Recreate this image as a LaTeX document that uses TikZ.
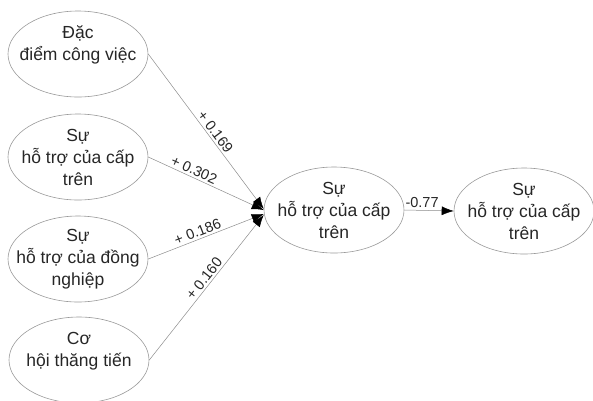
\documentclass[tikz,border=0pt]{standalone}
\usepackage{fontspec}
\setmainfont{Liberation Sans}
\usetikzlibrary{shapes.geometric,arrows.meta}
\tikzset{
  ell/.style={draw=black!40, line width=0.6pt, ellipse, minimum width=140pt, minimum height=86pt,
    inner sep=-25pt, align=center, font=\fontsize{17.5}{22}\selectfont, text=black!85},
  conn/.style={draw=black!45, line width=0.5pt, -{Latex[length=12pt,width=9pt,fill=black,color=black]}},
  lbl/.style={font=\fontsize{14.5}{16}\selectfont, inner sep=2pt, text=black!85}
}
\begin{document}
\begin{tikzpicture}[x=1pt,y=1pt]
\useasboundingbox (0,0) rectangle (593,-400);
\node[ell] (e1) at (78,-54) {Đặc\\điểm công việc\\\mbox{}};
\node[ell] (e2) at (78,-157) {Sự\\hỗ trợ của cấp\\trên};
\node[ell] (e3) at (78,-259) {Sự\\hỗ trợ của đồng\\nghiệp};
\node[ell] (e4) at (79,-360) {Cơ\\hội thăng tiến\\\mbox{}};
\node[ell] (c) at (334,-210) {Sự\\hỗ trợ của cấp\\trên};
\node[ell] (r) at (524,-211) {Sự\\hỗ trợ của cấp\\trên};
\draw[conn] (e1.east) -- node[lbl, sloped, above, pos=0.53] {+ 0.169} ([yshift=1pt]c.west);
\draw[conn] (e2.east) -- node[lbl, sloped, above, pos=0.37] {+ 0.302} ([yshift=0pt]c.west);
\draw[conn] (e3.east) -- node[lbl, sloped, above, pos=0.45] {+ 0.186} ([yshift=-4pt]c.west);
\draw[conn] (e4.east) -- node[lbl, sloped, above, pos=0.53] {+ 0.160} ([yshift=-5pt]c.west);
\draw[conn] (c.east) -- node[lbl, above, pos=0.36] {-0.77} (r.west);
\end{tikzpicture}
\end{document}
